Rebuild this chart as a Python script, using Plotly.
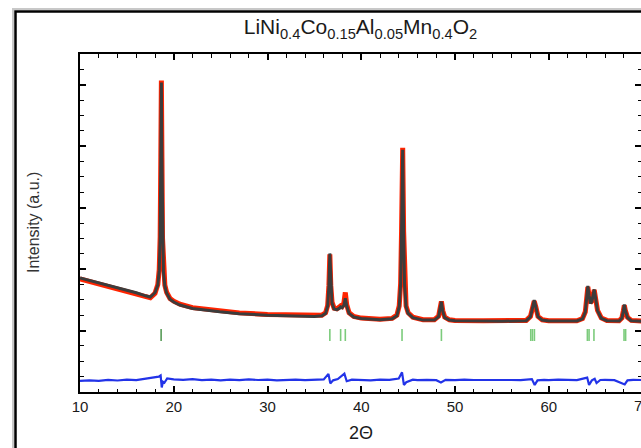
import plotly.graph_objects as go

# ---------------- data ----------------
two_theta = [10, 11, 12, 13, 14, 15, 16, 17, 17.5, 18.0, 18.3, 18.45, 18.55, 18.62, 18.68, 18.74,
             18.8, 18.9, 19.05, 19.24, 19.6, 20.0, 20.66, 22, 24.9, 27, 30, 33.45, 35, 35.8, 36.2,
             36.42, 36.55, 36.65, 36.75, 36.88, 37.1, 37.4, 37.65, 37.8, 37.95, 38.15, 38.3, 38.45,
             38.7, 39.2, 40, 42, 43.3, 43.8, 44.05, 44.2, 44.3, 44.42, 44.52, 44.62, 44.78, 45.0,
             45.5, 46.6, 47.8, 48.25, 48.42, 48.55, 48.7, 48.9, 49.4, 50, 53, 55, 57.6, 58.05, 58.3,
             58.45, 58.62, 58.85, 59.3, 60, 63, 63.6, 63.9, 64.05, 64.17, 64.3, 64.45, 64.6, 64.75,
             64.85, 65.0, 65.2, 65.6, 66.2, 67.5, 67.8, 67.95, 68.06, 68.18, 68.4, 68.8, 70]

y_calc = [3710, 3630, 3550, 3470, 3390, 3320, 3230, 3130, 3090, 3230, 3480, 3950, 5000, 7600, 10070, 7600,
          5000, 3900, 3450, 3220, 3020, 2930, 2830, 2720, 2610, 2550, 2500, 2470, 2455, 2480, 2560,
          2800, 3450, 4510, 3450, 2900, 2700, 2680, 2720, 2770, 2740, 2820, 3050, 2800,
          2560, 2440, 2390, 2350, 2380, 2480, 2780, 3500, 5200, 7880, 5200, 3500, 2780, 2560,
          2420, 2340, 2340, 2450, 2750, 2940, 2620, 2420, 2340, 2320, 2310, 2300, 2320, 2450, 2780,
          2990, 2780, 2450, 2340, 2310, 2310, 2380, 2600, 3050, 3450, 3150, 2880, 2950, 3250,
          3340, 3050, 2650, 2400, 2320, 2310, 2400, 2620, 2850, 2650, 2420, 2320, 2300]

y_obs = [3680, 3600, 3520, 3440, 3360, 3290, 3200, 3100, 3065, 3210, 3500, 3980, 5050, 7650, 10140, 7620,
         5020, 3930, 3480, 3245, 3045, 2955, 2855, 2745, 2635, 2575, 2525, 2490, 2475, 2500, 2580,
         2820, 3470, 4480, 3470, 2930, 2730, 2710, 2760, 2800, 2780, 2900, 3240, 2840,
         2580, 2460, 2405, 2365, 2395, 2500, 2800, 3530, 5250, 7950, 5230, 3520, 2800, 2580,
         2435, 2355, 2355, 2470, 2770, 2950, 2640, 2440, 2350, 2330, 2320, 2310, 2330, 2460, 2790,
         2960, 2770, 2460, 2350, 2320, 2320, 2390, 2610, 3070, 3420, 3130, 2900, 2970, 3270,
         3320, 3040, 2660, 2410, 2330, 2320, 2410, 2630, 2820, 2640, 2430, 2330, 2310]

diff_x = [10, 11, 12, 13, 14, 15, 16, 17, 17.8, 18.4, 18.6, 18.72, 18.85, 19.0, 19.3, 20, 21, 22, 23,
          24, 25, 26, 27, 28, 29, 30, 31, 32, 33, 34, 35, 36, 36.5, 36.7, 37.0, 37.5, 38.2, 38.45,
          39, 40, 41, 42, 43, 44.0, 44.35, 44.55, 44.8, 45.5, 46, 47, 48, 48.5, 49, 50, 51, 52, 53,
          54, 55, 56, 57, 58.2, 58.5, 58.8, 59.5, 60, 61, 62, 63, 64.1, 64.3, 64.6, 64.9, 65.1,
          65.5, 66, 67, 68.1, 68.4, 69, 70]
diff_y = [360, 380, 365, 395, 375, 400, 385, 430, 470, 500, 540, 150, 330, 300, 440, 410, 395, 420, 385,
          405, 380, 400, 385, 410, 390, 400, 380, 395, 405, 385, 395, 410, 590, 280, 380, 420, 600, 350,
          400, 390, 380, 400, 395, 440, 640, 230, 320, 400, 385, 395, 385, 310, 395, 385, 400, 390, 395,
          380, 395, 390, 385, 420, 230, 380, 395, 385, 400, 390, 385, 470, 230, 380, 430, 290,
          390, 395, 385, 245, 380, 395, 390]

bragg_main = [18.65]
bragg_other = [36.65, 37.8, 38.3, 44.35, 48.55, 58.08, 58.26, 58.47, 64.12, 64.3, 64.82, 68.03, 68.2]
bragg_low, bragg_high = 1660, 2050

x_ticks = [10, 20, 30, 40, 50, 60]
title_html = "LiNi<sub>0.4</sub>Co<sub>0.15</sub>Al<sub>0.05</sub>Mn<sub>0.4</sub>O<sub>2</sub>"


def segments(positions):
    xs, ys = [], []
    for p in positions:
        xs += [p, p, None]
        ys += [bragg_low, bragg_high, None]
    return xs, ys


FONT = "Arial, Liberation Sans, Helvetica, sans-serif"

fig = go.Figure()
fig.add_trace(go.Scatter(x=two_theta, y=y_obs, mode="lines",
                         line=dict(color="#ff2400", width=5), hoverinfo="skip", name="obs"))
fig.add_trace(go.Scatter(x=two_theta, y=y_calc, mode="lines",
                         line=dict(color="#3c3c3c", width=3), name="calc"))
fig.add_trace(go.Scatter(x=diff_x, y=diff_y, mode="lines",
                         line=dict(color="#2233e8", width=2.2), name="diff"))
bx, by = segments(bragg_other)
fig.add_trace(go.Scatter(x=bx, y=by, mode="lines",
                         line=dict(color="#7ccb7c", width=1.6), name="bragg"))
bx, by = segments(bragg_main)
fig.add_trace(go.Scatter(x=bx, y=by, mode="lines",
                         line=dict(color="#1f7a1f", width=1.2), name="bragg1"))
fig.add_trace(go.Scatter(x=[], y=[], yaxis="y2", showlegend=False))

# plot area geometry in px: left 80, right 641, top 54, bottom 392
L, R, T, B = 80, 641, 54, 392
W, H = R - L, B - T


def px_x(p):
    return (p - L) / W


def px_y(p):
    return (B - p) / H


minor_y = dict(dtick=500, tick0=0, ticks="inside", ticklen=3.5, tickwidth=1.2, tickcolor="black")

fig.update_layout(
    width=641, height=448,
    margin=dict(l=L, r=641 - R, t=T, b=448 - B),
    paper_bgcolor="white", plot_bgcolor="white",
    showlegend=False,
    font=dict(family=FONT, color="#1a1a1a"),
    title=dict(text=title_html, x=0.5, xref="paper", xanchor="center",
               y=1 - 27 / 448, yref="container", yanchor="middle",
               font=dict(size=21, family=FONT, color="#1a1a1a")),
    xaxis=dict(range=[10, 10 + W / 9.375], tickmode="array", tickvals=x_ticks,
               ticks="inside", ticklen=6, tickwidth=1.5, tickcolor="black",
               showline=True, linewidth=2, linecolor="black", mirror="ticks",
               showgrid=False, zeroline=False,
               tickfont=dict(size=15, family=FONT, color="#1a1a1a"),
               minor=dict(dtick=2, tick0=10, ticks="inside", ticklen=3.5, tickwidth=1.2,
                          tickcolor="black")),
    yaxis=dict(range=[0, 11000], dtick=2000, tick0=0, ticks="inside", ticklen=6,
               tickwidth=1.5, tickcolor="black", showticklabels=False,
               showline=True, linewidth=2, linecolor="black", mirror=False,
               showgrid=False, zeroline=False, minor=minor_y),
    yaxis2=dict(range=[0, 11000], dtick=2000, tick0=0, overlaying="y", side="right",
                anchor="x", ticks="inside", ticklen=6, tickwidth=1.5, tickcolor="black",
                showticklabels=False, showline=False, showgrid=False, zeroline=False,
                minor=minor_y),
)

fig.add_annotation(text="70", xref="paper", yref="paper", x=px_x(642.5), y=px_y(405),
                   xanchor="center", yanchor="middle", showarrow=False,
                   font=dict(size=15, family=FONT, color="#1a1a1a"))
fig.add_annotation(text="2Θ", xref="paper", yref="paper", x=px_x(361), y=px_y(433),
                   xanchor="center", yanchor="middle", showarrow=False,
                   font=dict(size=18, family=FONT, color="#1a1a1a"))
fig.add_annotation(text="Intensity (a.u.)", xref="paper", yref="paper", x=px_x(33), y=px_y(222),
                   xanchor="center", yanchor="middle", textangle=-90, showarrow=False,
                   font=dict(size=16, family=FONT, color="#333333"))

# outer frame (with a soft shadow)
fig.add_shape(type="rect", xref="paper", yref="paper", layer="below",
              x0=px_x(13), x1=px_x(700), y0=px_y(480), y1=px_y(9),
              line=dict(color="#c8c8c8", width=2))
fig.add_shape(type="rect", xref="paper", yref="paper", layer="below",
              x0=px_x(15.5), x1=px_x(700), y0=px_y(480), y1=px_y(11.5),
              line=dict(color="black", width=2.5))

fig.write_html("out.html")
